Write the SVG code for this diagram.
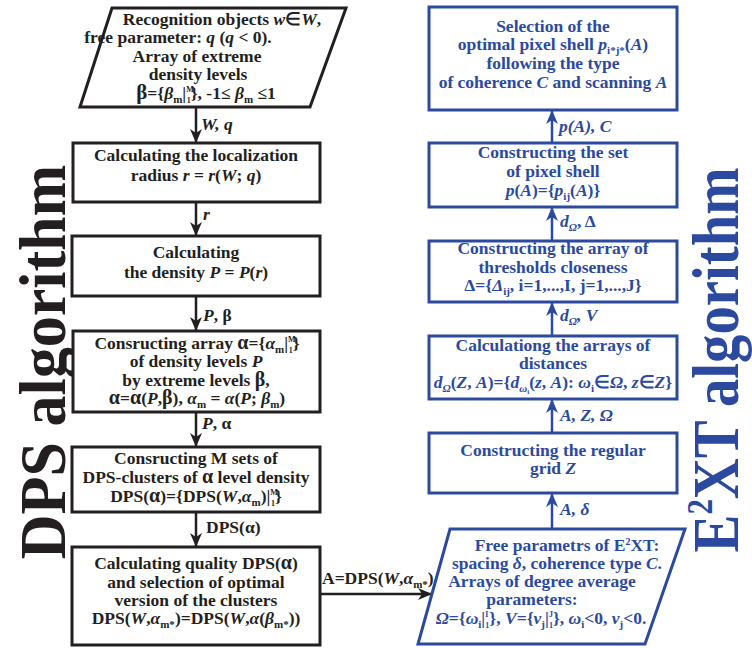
<svg xmlns="http://www.w3.org/2000/svg" width="752" height="648" viewBox="0 0 752 648">
<style>
.t{font-family:"Liberation Serif","Times New Roman",serif;font-weight:bold;font-size:17.5px;text-anchor:middle}
.k{fill:#231f20}
.b{fill:#2b4a9f}
.i{font-style:italic}
.s{font-size:11px}
.lbl{font-family:"Liberation Serif","Times New Roman",serif;font-weight:bold;font-size:17.5px}
.kb{fill:#fff;stroke:#231f20;stroke-width:3}
.bb{fill:#fff;stroke:#2b4a9f;stroke-width:3}
.kl{stroke:#231f20;stroke-width:2.5;fill:none}
.bl{stroke:#2b4a9f;stroke-width:2.5;fill:none}
.title{font-family:"Liberation Serif","Times New Roman",serif;font-weight:bold;font-size:66px;text-anchor:middle}
</style>
<defs>
<marker id="ak" viewBox="0 0 14 12" refX="14" refY="6" markerWidth="14" markerHeight="12" markerUnits="userSpaceOnUse" orient="auto"><path d="M0,0 L14,6 L0,12 L4,6 z" fill="#231f20"/></marker>
<marker id="ab" viewBox="0 0 14 12" refX="14" refY="6" markerWidth="14" markerHeight="12" markerUnits="userSpaceOnUse" orient="auto"><path d="M0,0 L14,6 L0,12 L4,6 z" fill="#2b4a9f"/></marker>
</defs>
<rect width="752" height="648" fill="#fff"/>

<g id="titles">
<text class="title k" transform="translate(65,362) rotate(-90) scale(0.94,1)">DPS algorithm</text>
<text class="title b" transform="translate(738,360) rotate(-90) scale(0.86,1)">E<tspan font-size="36" dy="-26">2</tspan><tspan dy="26">XT algorithm</tspan></text>
</g>

<g id="connectors">
<line class="kl" x1="196" y1="107" x2="196" y2="143" marker-end="url(#ak)"/>
<line class="kl" x1="196" y1="202" x2="196" y2="236" marker-end="url(#ak)"/>
<line class="kl" x1="196" y1="296" x2="196" y2="331" marker-end="url(#ak)"/>
<line class="kl" x1="196" y1="412" x2="196" y2="447" marker-end="url(#ak)"/>
<line class="kl" x1="196" y1="512" x2="196" y2="547" marker-end="url(#ak)"/>
<line class="kl" x1="320" y1="594" x2="432" y2="594" marker-end="url(#ak)"/>
<line class="bl" x1="552" y1="529" x2="552" y2="493" marker-end="url(#ab)"/>
<line class="bl" x1="552" y1="433" x2="552" y2="399" marker-end="url(#ab)"/>
<line class="bl" x1="552" y1="336" x2="552" y2="302" marker-end="url(#ab)"/>
<line class="bl" x1="552" y1="241" x2="552" y2="207" marker-end="url(#ab)"/>
<line class="bl" x1="552" y1="143" x2="552" y2="110" marker-end="url(#ab)"/>
<text class="lbl k i" x="201" y="130">W, q</text>
<text class="lbl k i" x="203" y="220">r</text>
<text class="lbl k" x="203" y="321"><tspan class="i">P</tspan>, β</text>
<text class="lbl k" x="202" y="429"><tspan class="i">P</tspan>, α</text>
<text class="lbl k" x="206" y="533">DPS(α)</text>
<text class="lbl k" x="322" y="584">A=DPS(<tspan class="i">W</tspan>,<tspan class="i">α</tspan><tspan class="s" dy="4">m*</tspan><tspan dy="-4">)</tspan></text>
<text class="lbl b i" x="559" y="132">p(A), C</text>
<text class="lbl b" x="560" y="227"><tspan class="i">d</tspan><tspan class="s i" dy="4">Ω</tspan><tspan dy="-4">, Δ</tspan></text>
<text class="lbl b i" x="560" y="321">d<tspan class="s" dy="4">Ω</tspan><tspan dy="-4">, V</tspan></text>
<text class="lbl b i" x="560" y="421">A, Z, Ω</text>
<text class="lbl b i" x="560" y="515">A, δ</text>
</g>

<g id="n1">
<polygon class="kb" points="112,8 346,8 310,107 80,107"/>
<text class="t k" x="222" y="25">Recognition objects <tspan class="i">w</tspan>∈<tspan class="i">W</tspan>,</text>
<text class="t k" x="178" y="43">free parameter: <tspan class="i">q</tspan> (<tspan class="i">q</tspan> &lt; 0).</text>
<text class="t k" x="197" y="62">Array of extreme</text>
<text class="t k" x="198" y="80">density levels</text>
<text class="t k" x="206" y="99"><tspan font-size="21">β</tspan>={<tspan class="i">β</tspan><tspan class="s" dy="4">m</tspan><tspan dy="-4">|</tspan><tspan font-size="8" dy="-7">M</tspan><tspan font-size="8" dx="-7" dy="11">1</tspan><tspan dy="-4">}, -1≤ </tspan><tspan class="i">β</tspan><tspan class="s" dy="4">m</tspan><tspan dy="-4"> ≤1</tspan></text>
</g>

<g id="n2">
<rect class="kb" x="73" y="143" width="247" height="59"/>
<text class="t k" x="196" y="161">Calculating the localization</text>
<text class="t k" x="196" y="181">radius <tspan class="i">r</tspan> = <tspan class="i">r</tspan>(<tspan class="i">W</tspan>; <tspan class="i">q</tspan>)</text>
</g>

<g id="n3">
<rect class="kb" x="72" y="236" width="248" height="60"/>
<text class="t k" x="196" y="258">Calculating</text>
<text class="t k" x="196" y="278">the density <tspan class="i">P</tspan> = <tspan class="i">P</tspan>(<tspan class="i">r</tspan>)</text>
</g>

<g id="n4">
<rect class="kb" x="73" y="331" width="247" height="81"/>
<text class="t k" x="197" y="349">Consructing array <tspan font-size="20">α</tspan>={<tspan class="i">α</tspan><tspan class="s" dy="4">m</tspan><tspan dy="-4">|</tspan><tspan font-size="8" dy="-7">M</tspan><tspan font-size="8" dx="-7" dy="11">1</tspan><tspan dy="-4">}</tspan></text>
<text class="t k" x="196" y="367">of density levels <tspan class="i">P</tspan></text>
<text class="t k" x="196" y="386">by extreme levels <tspan font-size="20">β</tspan>,</text>
<text class="t k" x="197" y="404"><tspan font-size="20">α</tspan>=<tspan font-size="20">α</tspan>(<tspan class="i">P</tspan>,<tspan font-size="20">β</tspan>),  <tspan class="i">α</tspan><tspan class="s" dy="4">m</tspan><tspan dy="-4"> = </tspan><tspan class="i">α</tspan>(<tspan class="i">P</tspan>; <tspan class="i">β</tspan><tspan class="s" dy="4">m</tspan><tspan dy="-4">)</tspan></text>
</g>

<g id="n5">
<rect class="kb" x="72" y="447" width="248" height="65"/>
<text class="t k" x="196" y="464">Consructing M sets of</text>
<text class="t k" x="196" y="483">DPS-clusters of <tspan font-size="20">α</tspan> level density</text>
<text class="t k" x="196" y="502">DPS(<tspan font-size="20">α</tspan>)={DPS(<tspan class="i">W</tspan>,<tspan class="i">α</tspan><tspan class="s" dy="4">m</tspan><tspan dy="-4">)|</tspan><tspan font-size="8" dy="-7">M</tspan><tspan font-size="8" dx="-7" dy="11">1</tspan><tspan dy="-4">}</tspan></text>
</g>

<g id="n6">
<rect class="kb" x="72" y="547" width="248" height="98"/>
<text class="t k" x="196" y="569">Calculating quality DPS(<tspan font-size="20">α</tspan>)</text>
<text class="t k" x="196" y="588">and selection of optimal</text>
<text class="t k" x="196" y="606">version of the clusters</text>
<text class="t k" x="196" y="624">DPS(<tspan class="i">W</tspan>,<tspan class="i">α</tspan><tspan class="s" dy="4">m*</tspan><tspan dy="-4">)=DPS(</tspan><tspan class="i">W</tspan>,<tspan class="i">α</tspan>(<tspan class="i">β</tspan><tspan class="s" dy="4">m*</tspan><tspan dy="-4">))</tspan></text>
</g>

<g id="e1">
<rect class="bb" x="429" y="7" width="248" height="103"/>
<text class="t b" x="553" y="32">Selection of the</text>
<text class="t b" x="553" y="50">optimal pixel shell <tspan class="i">p</tspan><tspan class="s" dy="4">i*j*</tspan><tspan dy="-4">(</tspan><tspan class="i">A</tspan>)</text>
<text class="t b" x="553" y="69">following the type</text>
<text class="t b" x="553" y="88">of coherence <tspan class="i">C</tspan> and scanning <tspan class="i">A</tspan></text>
</g>

<g id="e2">
<rect class="bb" x="429" y="143" width="248" height="64"/>
<text class="t b" x="553" y="158">Constructing the set</text>
<text class="t b" x="553" y="177">of pixel shell</text>
<text class="t b" x="553" y="196"><tspan class="i">p</tspan>(<tspan class="i">A</tspan>)={<tspan class="i">p</tspan><tspan class="s" dy="4">ij</tspan><tspan dy="-4">(</tspan><tspan class="i">A</tspan>)}</text>
</g>

<g id="e3">
<rect class="bb" x="429" y="241" width="248" height="61"/>
<text class="t b" x="553" y="254">Constructing the array of</text>
<text class="t b" x="553" y="273">thresholds closeness</text>
<text class="t b" x="553" y="291">Δ={<tspan class="i">Δ</tspan><tspan class="s" dy="4">ij</tspan><tspan dy="-4">, i=1,...,I, j=1,...,J}</tspan></text>
</g>

<g id="e4">
<rect class="bb" x="429" y="336" width="248" height="63"/>
<text class="t b" x="553" y="351">Calculationg the arrays of</text>
<text class="t b" x="553" y="369">distances</text>
<text class="t b" x="553" y="388"><tspan class="i">d</tspan><tspan class="s i" dy="4">Ω</tspan><tspan dy="-4">(</tspan><tspan class="i">Z</tspan>, <tspan class="i">A</tspan>)={<tspan class="i">d</tspan><tspan class="s i" dy="4">ω</tspan><tspan font-size="7" dy="2">i</tspan><tspan dy="-6">(</tspan><tspan class="i">z</tspan>, <tspan class="i">A</tspan>): <tspan class="i">ω</tspan><tspan class="s" dy="4">i</tspan><tspan dy="-4">∈</tspan><tspan class="i">Ω</tspan>, <tspan class="i">z</tspan>∈<tspan class="i">Z</tspan>}</text>
</g>

<g id="e5">
<rect class="bb" x="429" y="433" width="248" height="60"/>
<text class="t b" x="553" y="456">Constructing the regular</text>
<text class="t b" x="553" y="474">grid <tspan class="i">Z</tspan></text>
</g>

<g id="e6">
<polygon class="bb" points="450,529 685,529 645,644 418,644"/>
<text class="t b" x="567" y="551">Free parametrs of E<tspan font-size="10" dy="-6">2</tspan><tspan dy="6">XT:</tspan></text>
<text class="t b" x="557" y="569">spacing <tspan class="i">δ</tspan>, coherence type <tspan class="i">C</tspan>.</text>
<text class="t b" x="542" y="587">Arrays of degree average</text>
<text class="t b" x="532" y="605">parameters:</text>
<text class="t b" x="541" y="624"><tspan class="i">Ω</tspan>={<tspan class="i">ω</tspan><tspan class="s" dy="4">i</tspan><tspan dy="-4">|</tspan><tspan font-size="8" dy="-7">I</tspan><tspan font-size="8" dx="-3" dy="11">1</tspan><tspan dy="-4">}, </tspan><tspan class="i">V</tspan>={<tspan class="i">v</tspan><tspan class="s" dy="4">j</tspan><tspan dy="-4">|</tspan><tspan font-size="8" dy="-7">J</tspan><tspan font-size="8" dx="-4" dy="11">1</tspan><tspan dy="-4">}, </tspan><tspan class="i">ω</tspan><tspan class="s" dy="4">i</tspan><tspan dy="-4">&lt;0, </tspan><tspan class="i">v</tspan><tspan class="s" dy="4">j</tspan><tspan dy="-4">&lt;0.</tspan></text>
</g>
</svg>
